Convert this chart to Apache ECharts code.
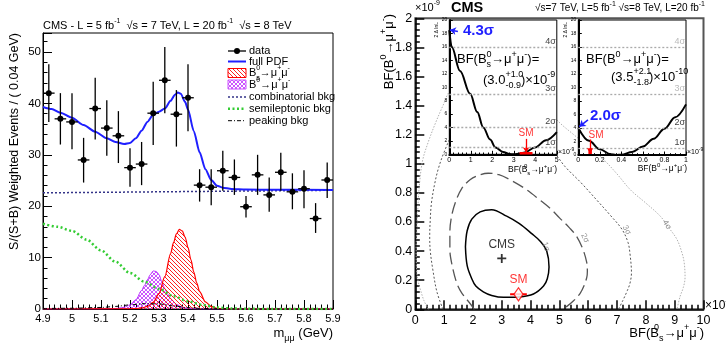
<!DOCTYPE html>
<html><head><meta charset="utf-8">
<script src="https://cdn.jsdelivr.net/npm/echarts@6/dist/echarts.min.js"></script>
<style>html,body{margin:0;padding:0;background:#fff}#c{width:726px;height:347px}</style>
</head><body><div id="c"></div>
<script>
// ---------------- LEFT PANEL DATA ----------------
const binCenters = [4.92,4.96,5.00,5.04,5.08,5.12,5.16,5.20,5.24,5.28,5.32,5.36,5.40,5.44,5.48,5.52,5.56,5.60,5.64,5.68,5.72,5.76,5.80,5.84,5.88];
const dataVals   = [42.0,37.0,36.4,29.0,39.0,35.2,33.7,27.5,28.2,38.1,44.5,37.9,41.1,24.1,23.7,26.9,25.6,19.9,26.1,22.2,26.6,22.8,23.4,17.6,25.1];
const errLow     = [36.4,32.0,31.1,24.6,33.0,29.8,28.4,23.8,24.1,31.9,38.1,31.6,34.6,20.9,20.2,23.0,22.2,17.8,22.2,18.9,23.0,19.4,19.6,14.8,21.6];
const errHigh    = [47.6,42.0,42.0,33.3,45.0,40.6,38.5,31.3,32.5,44.2,51.0,42.6,47.6,27.2,27.2,30.8,29.1,22.0,30.0,25.6,30.4,26.4,27.0,20.6,28.5];
const halfBin = 0.02;

const pdfMass = [4.90,4.93,4.96,5.00,5.04,5.08,5.12,5.15,5.18,5.20,5.22,5.24,5.26,5.28,5.30,5.32,5.34,5.355,5.365,5.375,5.39,5.40,5.42,5.44,5.46,5.48,5.50,5.52,5.55,5.60,5.70,5.90];
const pdfVals = [39.3,38.9,38.2,37.2,35.8,34.5,33.2,32.5,32.1,32.3,33.2,34.7,36.4,37.8,38.4,39.0,40.5,41.7,42.1,41.9,40.3,38.8,34.6,30.5,27.2,25.1,24.0,23.6,23.35,23.25,23.2,23.15];
const combMass = [4.90,5.90];
const combVals = [22.6,23.1];
const semiMass = [4.90,4.95,5.00,5.05,5.10,5.15,5.20,5.25,5.30,5.35,5.40,5.45,5.50,5.55,5.60,5.70,5.90];
const semiVals = [16.6,16.0,15.2,13.5,11.4,9.2,7.0,5.3,3.9,2.5,1.5,0.8,0.3,0.1,0.03,0.01,0];
const peakMass = [4.90,5.00,5.10,5.15,5.20,5.25,5.30,5.35,5.40,5.45,5.50,5.60,5.90];
const peakVals = [0.1,0.15,0.3,0.5,0.8,1.05,1.0,0.6,0.25,0.1,0.05,0.01,0];
const bsMass = [4.90,5.20,5.22,5.24,5.26,5.28,5.30,5.32,5.34,5.35,5.36,5.37,5.38,5.39,5.40,5.41,5.42,5.43,5.44,5.46,5.48,5.50,5.52,5.55,5.90];
const bsVals = [0,0.05,0.1,0.2,0.5,1.3,3.0,6.3,10.8,12.9,14.6,15.5,15.2,14.0,12.0,9.6,7.2,5.1,3.4,1.4,0.5,0.15,0.05,0,0];
const bdMass = [4.90,5.10,5.14,5.16,5.18,5.20,5.22,5.24,5.25,5.26,5.27,5.28,5.29,5.30,5.31,5.32,5.33,5.34,5.36,5.38,5.40,5.42,5.45,5.90];
const bdVals = [0,0.02,0.05,0.15,0.35,0.8,1.8,3.6,4.6,5.7,6.7,7.4,7.3,6.7,5.3,4.0,2.9,2.0,0.9,0.35,0.1,0.03,0,0];

// ---------------- RIGHT PANEL DATA ----------------
const contour1 = [[1.74,0.43],[1.8,0.54],[1.96,0.62],[2.25,0.67],[2.65,0.685],[3.17,0.64],[3.6,0.59],[4.04,0.52],[4.35,0.465],[4.56,0.40],[4.64,0.29],[4.58,0.21],[4.45,0.16],[4.1,0.105],[3.6,0.085],[3.06,0.082],[2.65,0.095],[2.36,0.12],[2.1,0.16],[1.96,0.21],[1.8,0.3],[1.74,0.43]];
const contour2 = [[2.05,0],[1.9,0.04],[1.62,0.11],[1.44,0.18],[1.28,0.3],[1.2,0.41],[1.2,0.53],[1.26,0.64],[1.4,0.74],[1.61,0.83],[1.9,0.89],[2.19,0.92],[2.53,0.935],[2.9,0.925],[3.29,0.89],[3.8,0.83],[4.33,0.75],[4.7,0.69],[5.02,0.625],[5.35,0.56],[5.6,0.5],[5.82,0.41],[5.95,0.32],[5.97,0.26],[5.95,0.22],[5.85,0.16],[5.72,0.11],[5.5,0.06],[5.26,0.02],[5.1,0]];
const contour3 = [[0.96,0],[0.75,0.12],[0.61,0.27],[0.52,0.4],[0.5,0.5],[0.52,0.62],[0.56,0.73],[0.66,0.85],[0.79,0.96],[1.0,1.08],[1.3,1.2],[2.0,1.32],[2.8,1.36],[3.6,1.3],[4.3,1.18],[4.85,1.07],[5.2,0.98],[5.75,0.87],[6.3,0.75],[6.75,0.65],[7.17,0.55],[7.38,0.46],[7.45,0.38],[7.5,0.25],[7.45,0.18],[7.36,0.13],[7.2,0.06],[7.05,0]];
const contour4 = [[0.45,0],[0.3,0.06],[0.2,0.12],[0.09,0.2],[0.04,0.3],[0.03,0.42],[0.05,0.52],[0.09,0.7],[0.14,0.85],[0.25,1.02],[0.45,1.15],[0.7,1.28],[0.96,1.4],[1.2,1.5],[2.0,1.65],[3.0,1.68],[4.0,1.5],[4.6,1.38],[4.97,1.29],[5.5,1.2],[6.0,1.12],[6.53,1.03],[7.0,0.93],[7.47,0.82],[8.0,0.73],[8.5,0.64],[8.8,0.56],[9.08,0.48],[9.25,0.39],[9.33,0.32],[9.36,0.22],[9.3,0.15],[9.19,0.09],[9.08,0]];
const contourLabels = [[4.53,0.43,'1σ',-70],[5.89,0.49,'2σ',-65],[7.34,0.545,'3σ',-60],[8.73,0.58,'4σ',-55]];
const cmsPoint = [3.0,0.35];
const smPoint = [3.58,0.103];
const smErrX = [3.29,3.87];

const insetBsX = [0,0.11,0.5,0.97,1.3,1.58,1.9,2.15,2.5,2.8,3.0,3.3,3.5,3.98,4.5,5.0];
const insetBsY = [18.5,16.0,12.4,9.0,6.3,4.0,2.2,1.0,0.35,0.05,0,0.12,0.27,1.0,2.1,3.3];
const insetBdX = [0,0.1,0.2,0.3,0.35,0.4,0.5,0.6,0.7,0.8,0.9,1.0];
const insetBdY = [4.0,2.1,0.85,0.12,0,0.05,0.45,1.25,2.4,3.9,5.6,7.5];
const sigmaLevels = [1,4,9,16];
const sigmaNames = ['1σ','2σ','3σ','4σ'];
const smBs = 3.57, smBsErr = [3.27,3.87];
const smBd = 0.11;

// ---------------- HELPERS ----------------
const F = '"Liberation Sans", Arial, Helvetica, sans-serif';
function tile(draw){const c=document.createElement('canvas');c.width=4;c.height=4;const g=c.getContext('2d');draw(g);return {image:c,repeat:'repeat'};}
const redHatch = tile(g=>{g.fillStyle='#ff2020';for(let i=0;i<4;i++)g.fillRect(i,i,1,1);});
const purpleHatch = tile(g=>{g.fillStyle='#cc55ff';for(let i=0;i<4;i++){g.fillRect(i,i,1,1);g.fillRect(3-i,i,1,1);}});
const zip = (a,b)=>a.map((v,i)=>[v,b[i]]);
function rich(fs){return {
  sup:{fontSize:Math.round(fs*0.68),fontFamily:F,verticalAlign:'top',lineHeight:fs*0.75},
  sub:{fontSize:Math.round(fs*0.68),fontFamily:F,verticalAlign:'bottom',lineHeight:fs*0.75},
  zsup:{fontSize:Math.round(fs*0.68),fontFamily:F,verticalAlign:'top',lineHeight:fs*0.75,width:0}
};}
function txt(x,y,text,fs,opts){opts=opts||{};
  const r=rich(fs); for(const k in r){r[k].fill=opts.color||'#000';}
  return {type:'text',x:x,y:y,rotation:opts.rot||0,z:50,silent:true,
    style:{text:text,fontSize:fs,fontFamily:F,fontWeight:opts.bold?'bold':'normal',fill:opts.color||'#000',
      align:opts.align||'left',verticalAlign:opts.va||'middle',lineHeight:fs*1.5,rich:r}};}

const axisTxt = {color:'#000',fontFamily:F};
const gridL = {left:43,top:33,width:290,height:276};
const gridR = {left:415.3,top:18.3,width:288.2,height:291};
const gridI1 = {left:449.3,top:20,width:107.5,height:134.3};
const gridI2 = {left:578.3,top:20,width:107.7,height:135};

function sigmaMark(colors){return {silent:true,symbol:'none',z:13,
  lineStyle:{color:'#aaa',type:[2,2],width:1.3},
  label:{position:'insideEndTop',fontSize:9,fontFamily:F,distance:1},
  data:sigmaLevels.map((v,i)=>({yAxis:v,label:{formatter:sigmaNames[i],color:colors[i]}}))};}

const option = {
  animation:false,
  backgroundColor:'#fff',
  grid:[
    Object.assign({show:true,borderColor:'#000',borderWidth:1,backgroundColor:'transparent',outerBoundsMode:'none'},gridL),
    Object.assign({show:true,borderColor:'#555',borderWidth:2,backgroundColor:'transparent',outerBoundsMode:'none'},gridR),
    Object.assign({show:true,borderColor:'#000',borderWidth:1,backgroundColor:'#fff',z:10,outerBoundsMode:'none'},gridI1),
    Object.assign({show:true,borderColor:'#000',borderWidth:1,backgroundColor:'#fff',z:10,outerBoundsMode:'none'},gridI2)
  ],
  xAxis:[
    {gridIndex:0,type:'value',min:4.9,max:5.9,interval:0.1,
      axisLine:{lineStyle:{color:'#000',width:1}},axisTick:{inside:true,length:9,lineStyle:{color:'#000'}},
      minorTick:{show:true,splitNumber:5,length:4.5,lineStyle:{color:'#000'}},splitLine:{show:false},minorSplitLine:{show:false},
      axisLabel:Object.assign({fontSize:11,margin:4,hideOverlap:false},axisTxt)},
    {gridIndex:1,type:'value',min:0,max:10,interval:1,
      axisLine:{lineStyle:{color:'#000',width:1.5}},axisTick:{inside:true,length:9,lineStyle:{color:'#000',width:1.5}},
      minorTick:{show:true,splitNumber:5,length:4.5,lineStyle:{color:'#000',width:1.5}},splitLine:{show:false},
      axisLabel:Object.assign({fontSize:12.5,margin:5,hideOverlap:false},axisTxt)},
    {gridIndex:2,type:'value',min:0,max:5,interval:1,z:11,
      axisLine:{lineStyle:{color:'#000',width:2}},axisTick:{inside:true,length:3.5,lineStyle:{color:'#000'}},
      minorTick:{show:true,splitNumber:5,length:1.8,lineStyle:{color:'#000'}},splitLine:{show:false},
      axisLabel:Object.assign({fontSize:7,margin:2,hideOverlap:false},axisTxt)},
    {gridIndex:3,type:'value',min:0,max:1,interval:0.2,z:11,
      axisLine:{lineStyle:{color:'#000',width:2}},axisTick:{inside:true,length:3.5,lineStyle:{color:'#000'}},
      minorTick:{show:true,splitNumber:4,length:1.8,lineStyle:{color:'#000'}},splitLine:{show:false},
      axisLabel:Object.assign({fontSize:7,margin:2,hideOverlap:false},axisTxt)}
  ],
  yAxis:[
    {gridIndex:0,type:'value',min:0,max:53.7,interval:10,
      axisLine:{lineStyle:{color:'#000',width:1}},axisTick:{inside:true,length:9,lineStyle:{color:'#000'}},
      minorTick:{show:true,splitNumber:5,length:4.5,lineStyle:{color:'#000'}},splitLine:{show:false},
      axisLabel:Object.assign({fontSize:11.5,margin:2,showMaxLabel:false,hideOverlap:false},axisTxt)},
    {gridIndex:1,type:'value',min:0,max:2,interval:0.2,
      axisLine:{lineStyle:{color:'#000',width:1.5}},axisTick:{inside:true,length:9,lineStyle:{color:'#000',width:1.5}},
      minorTick:{show:true,splitNumber:5,length:4.5,lineStyle:{color:'#000',width:1.5}},splitLine:{show:false},
      axisLabel:Object.assign({fontSize:12.5,margin:3,hideOverlap:false},axisTxt)},
    {gridIndex:2,type:'value',min:0,max:20,interval:2,z:11,
      axisLine:{lineStyle:{color:'#000',width:2}},axisTick:{inside:true,length:3.5,lineStyle:{color:'#000'}},
      minorTick:{show:false},splitLine:{show:false},
      axisLabel:Object.assign({fontSize:5,margin:2,hideOverlap:false},axisTxt)},
    {gridIndex:3,type:'value',min:0,max:20,interval:2,z:11,
      axisLine:{lineStyle:{color:'#000',width:2}},axisTick:{inside:true,length:3.5,lineStyle:{color:'#000'}},
      minorTick:{show:false},splitLine:{show:false},
      axisLabel:Object.assign({fontSize:5,margin:2,hideOverlap:false},axisTxt)}
  ],
  series:[
    // left panel
    {type:'line',xAxisIndex:0,yAxisIndex:0,data:zip(bdMass,bdVals),smooth:0.3,smoothMonotone:'x',symbol:'none',z:3,
      lineStyle:{color:'#bb33ff',width:1},areaStyle:{color:purpleHatch,opacity:1}},
    {type:'line',xAxisIndex:0,yAxisIndex:0,data:zip(bsMass,bsVals),smooth:0.3,smoothMonotone:'x',symbol:'none',z:4,
      lineStyle:{color:'#ff0000',width:1.2},areaStyle:{color:redHatch,opacity:1}},
    {type:'line',xAxisIndex:0,yAxisIndex:0,data:zip(peakMass,peakVals),smooth:0.3,smoothMonotone:'x',symbol:'none',z:5,
      lineStyle:{color:'#000',width:1,type:[4,2,1,2]}},
    {type:'line',xAxisIndex:0,yAxisIndex:0,data:zip(semiMass,semiVals),smooth:0.3,smoothMonotone:'x',symbol:'none',z:5,
      lineStyle:{color:'#33cc33',width:2.5,type:[2,2.5]}},
    {type:'line',xAxisIndex:0,yAxisIndex:0,data:zip(combMass,combVals),symbol:'none',z:5,
      lineStyle:{color:'#333388',width:1.5,type:[2,2]}},
    {type:'line',xAxisIndex:0,yAxisIndex:0,data:zip(pdfMass,pdfVals),smooth:0.25,smoothMonotone:'x',symbol:'none',z:6,
      lineStyle:{color:'#1f1fff',width:2}},
    {type:'custom',xAxisIndex:0,yAxisIndex:0,z:8,
      data:binCenters.map((c,i)=>[c,dataVals[i],errLow[i],errHigh[i]]),
      encode:{x:0,y:1},
      renderItem:function(params,api){
        const x=api.value(0),y=api.value(1),lo=api.value(2),hi=api.value(3);
        const p=api.coord([x,y]),pl=api.coord([x,lo]),ph=api.coord([x,hi]);
        const xl=api.coord([x-halfBin,y]),xr=api.coord([x+halfBin,y]);
        return {type:'group',children:[
          {type:'line',shape:{x1:pl[0],y1:pl[1],x2:ph[0],y2:ph[1]},style:{stroke:'#000',lineWidth:1.3}},
          {type:'line',shape:{x1:xl[0],y1:xl[1],x2:xr[0],y2:xr[1]},style:{stroke:'#000',lineWidth:1.3}},
          {type:'circle',shape:{cx:p[0],cy:p[1],r:3},style:{fill:'#000'}}]};
      }},
    // right main panel contours
    {type:'line',xAxisIndex:1,yAxisIndex:1,data:contour4,smooth:0.35,symbol:'none',z:3,
      lineStyle:{color:'#b0b0b0',width:1,type:[1.5,1.5]}},
    {type:'line',xAxisIndex:1,yAxisIndex:1,data:contour3,smooth:0.35,symbol:'none',z:3,
      lineStyle:{color:'#555',width:1,type:[2,2]}},
    {type:'line',xAxisIndex:1,yAxisIndex:1,data:contour2,smooth:0.35,symbol:'none',z:3,
      lineStyle:{color:'#555',width:1.3,type:[12,5]}},
    {type:'line',xAxisIndex:1,yAxisIndex:1,data:contour1,smooth:0.35,symbol:'none',z:3,
      lineStyle:{color:'#000',width:1.5}},
    {type:'scatter',xAxisIndex:1,yAxisIndex:1,symbolSize:0,z:4,silent:true,
      data:contourLabels.map(d=>({value:[d[0],d[1]],label:{show:true,formatter:d[2],rotate:d[3],position:'inside',fontSize:8,color:'#777',fontFamily:F}}))},
    {type:'scatter',xAxisIndex:1,yAxisIndex:1,z:6,silent:true,
      symbol:'path://M4,0h2v4h4v2h-4v4h-2v-4h-4v-2h4z',symbolSize:9,itemStyle:{color:'#000'},
      data:[cmsPoint],label:{show:true,formatter:'CMS',position:'top',distance:3,fontSize:12,fontFamily:F,color:'#000'}},
    {type:'line',xAxisIndex:1,yAxisIndex:1,z:5,symbol:'none',silent:true,
      data:[[smErrX[0],smPoint[1]],[smErrX[1],smPoint[1]]],lineStyle:{color:'#ff0000',width:2}},
    {type:'scatter',xAxisIndex:1,yAxisIndex:1,z:6,silent:true,symbol:'diamond',symbolSize:[9,13],
      itemStyle:{color:'#fff',borderColor:'#ff0000',borderWidth:1.3},
      data:[smPoint],label:{show:true,formatter:'SM',position:'top',distance:1,fontSize:12,fontFamily:F,color:'#ff0000'}},
    // inset 1
    {type:'line',xAxisIndex:2,yAxisIndex:2,data:zip(insetBsX,insetBsY),smooth:0.35,smoothMonotone:'x',symbol:'none',z:12,
      lineStyle:{color:'#000',width:2},markLine:sigmaMark(['#444','#444','#444','#444'])},
    {type:'line',xAxisIndex:2,yAxisIndex:2,data:[[smBsErr[0],0.15],[smBsErr[1],0.15]],symbol:'none',z:13,silent:true,
      lineStyle:{color:'#ff0000',width:2.5},
      markLine:{silent:true,z:14,symbol:['none','arrow'],symbolSize:5,lineStyle:{color:'#ff0000',width:1.3,type:'solid'},label:{show:false},
        data:[[{coord:[smBs,2.3]},{coord:[smBs,0.3]}]]}},
    {type:'scatter',xAxisIndex:2,yAxisIndex:2,symbolSize:0,z:14,silent:true,
      data:[[smBs,3.2]],label:{show:true,formatter:'SM',position:'inside',fontSize:10,fontFamily:F,color:'#ff0000'}},
    {type:'line',xAxisIndex:2,yAxisIndex:2,data:[],z:13,silent:true,
      markLine:{silent:true,z:14,symbol:['none','arrow'],symbolSize:6,lineStyle:{color:'#1f1fff',width:1.5,type:'solid'},label:{show:false},
        data:[[{coord:[0.4,18.3]},{coord:[0.03,18.5]}]]}},
    // inset 2
    {type:'line',xAxisIndex:3,yAxisIndex:3,data:zip(insetBdX,insetBdY),smooth:0.35,smoothMonotone:'x',symbol:'none',z:12,
      lineStyle:{color:'#000',width:2},markLine:sigmaMark(['#444','#444','#bbb','#bbb'])},
    {type:'line',xAxisIndex:3,yAxisIndex:3,data:[[smBd,0.15],[smBd,1.0]],symbol:'none',z:13,silent:true,
      lineStyle:{color:'#ff0000',width:3.5},
      markLine:{silent:true,z:14,symbol:['none','arrow'],symbolSize:5,lineStyle:{color:'#ff0000',width:1.3,type:'solid'},label:{show:false},
        data:[[{coord:[smBd,2.3]},{coord:[smBd,0.3]}]]}},
    {type:'scatter',xAxisIndex:3,yAxisIndex:3,symbolSize:0,z:14,silent:true,
      data:[[0.165,3.0]],label:{show:true,formatter:'SM',position:'inside',fontSize:10,fontFamily:F,color:'#ff0000'}},
    {type:'line',xAxisIndex:3,yAxisIndex:3,data:[],z:13,silent:true,
      markLine:{silent:true,z:14,symbol:['none','arrow'],symbolSize:6,lineStyle:{color:'#1f1fff',width:1.5,type:'solid'},label:{show:false},
        data:[[{coord:[0.09,5.2]},{coord:[0.01,4.2]}]]}}
  ],
  graphic:[
    // left panel texts
    txt(43,26,'CMS - L = 5 fb{sup|-1}  √s = 7 TeV, L = 20 fb{sup|-1}  √s = 8 TeV',11),
    txt(15,33,'S/(S+B) Weighted Events / ( 0.04 GeV)',12.5,{rot:Math.PI/2,align:'right'}),
    txt(333,333,'m{sub|μμ} (GeV)',13,{align:'right'}),
    // legend
    {type:'line',shape:{x1:228,y1:51,x2:246,y2:51},style:{stroke:'#000',lineWidth:1.3},z:50},
    {type:'circle',shape:{cx:237,cy:51,r:3},style:{fill:'#000'},z:50},
    {type:'line',shape:{x1:228,y1:61.5,x2:246,y2:61.5},style:{stroke:'#1f1fff',lineWidth:2},z:50},
    {type:'rect',shape:{x:228,y:68.5,width:18,height:9},style:{fill:redHatch,stroke:'#ff0000',lineWidth:1},z:50},
    {type:'rect',shape:{x:228,y:80,width:18,height:9},style:{fill:purpleHatch,stroke:'#cc55ff',lineWidth:1},z:50},
    {type:'line',shape:{x1:228,y1:97,x2:246,y2:97},style:{stroke:'#333388',lineWidth:1.5,lineDash:[2,2]},z:50},
    {type:'line',shape:{x1:228,y1:108.7,x2:246,y2:108.7},style:{stroke:'#33cc33',lineWidth:2.5,lineDash:[2,2.5]},z:50},
    {type:'line',shape:{x1:228,y1:120.7,x2:246,y2:120.7},style:{stroke:'#000',lineWidth:1,lineDash:[4,2,1,2]},z:50},
    txt(249,51,'data',11),
    txt(249,61.5,'full PDF',11),
    txt(249,73,'B{zsup|0}{sub|s}→μ{sup|+}μ{sup|-}',11),
    txt(249,84.5,'B{sup|0}→μ{sup|+}μ{sup|-}',11),
    txt(249,97,'combinatorial bkg',11),
    txt(249,108.7,'semileptonic bkg',11),
    txt(249,120.7,'peaking bkg',11),
    // right panel texts
    txt(451,8,'CMS',14.5,{bold:true}),
    txt(705,8.5,'√s=7 TeV, L=5 fb{sup|-1} √s=8 TeV, L=20 fb{sup|-1}',10,{align:'right'}),
    txt(415,8,'×10{sup|-9}',11),
    txt(389,14,'BF(B{sup|0}→μ{sup|+}μ{sup|-})',13,{rot:Math.PI/2,align:'right'}),
    txt(704,333,'BF(B{zsup|0}{sub|s}→μ{sup|+}μ{sup|-})',13,{align:'right'}),
    txt(705,306,'×10{sup|-9}',12),
    // inset texts
    txt(463,31,'4.3σ',15,{bold:true,color:'#1f1fff'}),
    txt(590,116,'2.0σ',15,{bold:true,color:'#1f1fff'}),
    txt(457,59.5,'BF(B{zsup|0}{sub|s}→μ{sup|+}μ{sup|-})=',13),
    txt(483,80,'(3.0{zsup|+1.0}{sub|-0.9})×10{sup|-9}',13),
    txt(586,59.5,'BF(B{sup|0}→μ{sup|+}μ{sup|-})=',13),
    txt(611,77,'(3.5{zsup|+2.1}{sub|-1.8})×10{sup|-10}',13),
    txt(558,152,'×10{sup|-9}',7),
    txt(687,152,'×10{sup|-9}',7),
    txt(557,170,'BF(B{zsup|0}{sub|s}→μ{sup|+}μ{sup|-})',8.5,{align:'right'}),
    txt(687,169,'BF(B{sup|0}→μ{sup|+}μ{sup|-})',8.5,{align:'right'}),
    txt(437,22,'2 Δ lnL',5,{rot:Math.PI/2,align:'right'}),
    txt(566,22,'2 Δ lnL',5,{rot:Math.PI/2,align:'right'})
  ]
};
const chart = echarts.init(document.getElementById('c'),null,{renderer:'canvas',width:726,height:347});
chart.setOption(option);
</script></body></html>
